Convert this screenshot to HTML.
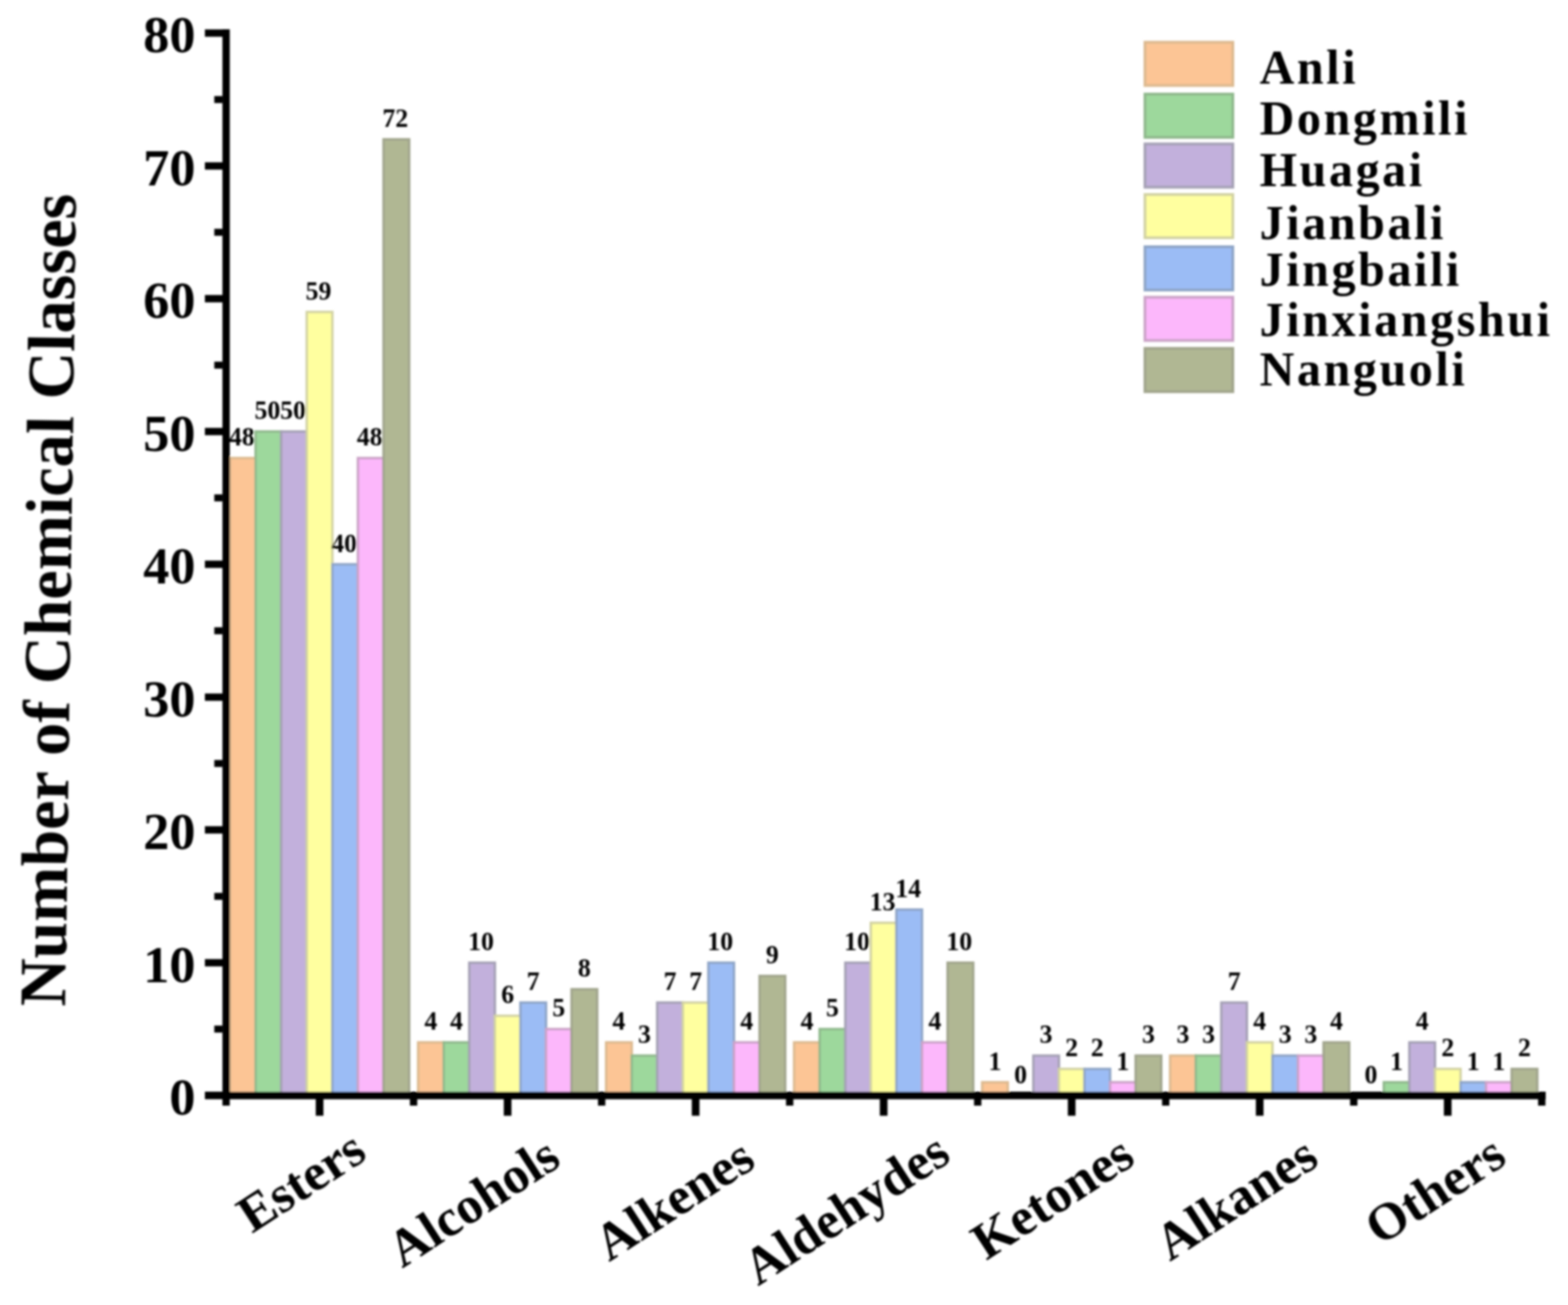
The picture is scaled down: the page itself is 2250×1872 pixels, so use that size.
<!DOCTYPE html>
<html lang="en"><head><meta charset="utf-8"><title>Number of Chemical Classes</title>
<style>html,body{margin:0;padding:0;background:#fff}body{width:2250px;height:1872px;overflow:hidden}svg{display:block}text{font-family:"Liberation Serif","DejaVu Serif",serif;font-weight:700;fill:#000}</style></head><body>
<svg width="2250" height="1872" viewBox="0 0 2250 1872">
<rect width="2250" height="1872" fill="#fff"/>
<defs><filter id="soft" x="0" y="0" width="2250" height="1872" filterUnits="userSpaceOnUse"><feGaussianBlur stdDeviation="1.4"/></filter></defs>
<g filter="url(#soft)">
<g id="bars" stroke-width="3.5">
<rect x="330.1" y="657.1" width="36.7" height="914.4" fill="#fcc595" stroke="#dcb98f"/>
<rect x="366.8" y="619.0" width="36.7" height="952.5" fill="#9dd89c" stroke="#8fb88c"/>
<rect x="403.5" y="619.0" width="36.7" height="952.5" fill="#c2b0dc" stroke="#a4a0b4"/>
<rect x="440.2" y="447.5" width="36.7" height="1124.0" fill="#ffff9f" stroke="#d2d2a2"/>
<rect x="476.9" y="809.5" width="36.7" height="762.0" fill="#9bbcf5" stroke="#8ea4c6"/>
<rect x="513.6" y="657.1" width="36.7" height="914.4" fill="#fcb7fb" stroke="#caa2c6"/>
<rect x="550.4" y="199.9" width="36.7" height="1371.6" fill="#b0b793" stroke="#a0a48c"/>
<rect x="600.0" y="1495.3" width="36.7" height="76.2" fill="#fcc595" stroke="#dcb98f"/>
<rect x="636.7" y="1495.3" width="36.7" height="76.2" fill="#9dd89c" stroke="#8fb88c"/>
<rect x="673.4" y="1381.0" width="36.7" height="190.5" fill="#c2b0dc" stroke="#a4a0b4"/>
<rect x="710.1" y="1457.2" width="36.7" height="114.3" fill="#ffff9f" stroke="#d2d2a2"/>
<rect x="746.8" y="1438.2" width="36.7" height="133.3" fill="#9bbcf5" stroke="#8ea4c6"/>
<rect x="783.5" y="1476.2" width="36.7" height="95.2" fill="#fcb7fb" stroke="#caa2c6"/>
<rect x="820.2" y="1419.1" width="36.7" height="152.4" fill="#b0b793" stroke="#a0a48c"/>
<rect x="869.8" y="1495.3" width="36.7" height="76.2" fill="#fcc595" stroke="#dcb98f"/>
<rect x="906.5" y="1514.3" width="36.7" height="57.2" fill="#9dd89c" stroke="#8fb88c"/>
<rect x="943.1" y="1438.2" width="36.7" height="133.3" fill="#c2b0dc" stroke="#a4a0b4"/>
<rect x="979.9" y="1438.2" width="36.7" height="133.3" fill="#ffff9f" stroke="#d2d2a2"/>
<rect x="1016.5" y="1381.0" width="36.7" height="190.5" fill="#9bbcf5" stroke="#8ea4c6"/>
<rect x="1053.2" y="1495.3" width="36.7" height="76.2" fill="#fcb7fb" stroke="#caa2c6"/>
<rect x="1090.0" y="1400.0" width="36.7" height="171.5" fill="#b0b793" stroke="#a0a48c"/>
<rect x="1139.5" y="1495.3" width="36.7" height="76.2" fill="#fcc595" stroke="#dcb98f"/>
<rect x="1176.2" y="1476.2" width="36.7" height="95.2" fill="#9dd89c" stroke="#8fb88c"/>
<rect x="1213.0" y="1381.0" width="36.7" height="190.5" fill="#c2b0dc" stroke="#a4a0b4"/>
<rect x="1249.6" y="1323.8" width="36.7" height="247.7" fill="#ffff9f" stroke="#d2d2a2"/>
<rect x="1286.3" y="1304.8" width="36.7" height="266.7" fill="#9bbcf5" stroke="#8ea4c6"/>
<rect x="1323.0" y="1495.3" width="36.7" height="76.2" fill="#fcb7fb" stroke="#caa2c6"/>
<rect x="1359.8" y="1381.0" width="36.7" height="190.5" fill="#b0b793" stroke="#a0a48c"/>
<rect x="1409.4" y="1552.5" width="36.7" height="19.0" fill="#fcc595" stroke="#dcb98f"/>
<rect x="1482.8" y="1514.3" width="36.7" height="57.2" fill="#c2b0dc" stroke="#a4a0b4"/>
<rect x="1519.5" y="1533.4" width="36.7" height="38.1" fill="#ffff9f" stroke="#d2d2a2"/>
<rect x="1556.2" y="1533.4" width="36.7" height="38.1" fill="#9bbcf5" stroke="#8ea4c6"/>
<rect x="1592.9" y="1552.5" width="36.7" height="19.0" fill="#fcb7fb" stroke="#caa2c6"/>
<rect x="1629.6" y="1514.3" width="36.7" height="57.2" fill="#b0b793" stroke="#a0a48c"/>
<rect x="1679.1" y="1514.3" width="36.7" height="57.2" fill="#fcc595" stroke="#dcb98f"/>
<rect x="1715.8" y="1514.3" width="36.7" height="57.2" fill="#9dd89c" stroke="#8fb88c"/>
<rect x="1752.5" y="1438.2" width="36.7" height="133.3" fill="#c2b0dc" stroke="#a4a0b4"/>
<rect x="1789.2" y="1495.3" width="36.7" height="76.2" fill="#ffff9f" stroke="#d2d2a2"/>
<rect x="1825.9" y="1514.3" width="36.7" height="57.2" fill="#9bbcf5" stroke="#8ea4c6"/>
<rect x="1862.6" y="1514.3" width="36.7" height="57.2" fill="#fcb7fb" stroke="#caa2c6"/>
<rect x="1899.3" y="1495.3" width="36.7" height="76.2" fill="#b0b793" stroke="#a0a48c"/>
<rect x="1985.7" y="1552.5" width="36.7" height="19.0" fill="#9dd89c" stroke="#8fb88c"/>
<rect x="2022.4" y="1495.3" width="36.7" height="76.2" fill="#c2b0dc" stroke="#a4a0b4"/>
<rect x="2059.1" y="1533.4" width="36.7" height="38.1" fill="#ffff9f" stroke="#d2d2a2"/>
<rect x="2095.8" y="1552.5" width="36.7" height="19.0" fill="#9bbcf5" stroke="#8ea4c6"/>
<rect x="2132.4" y="1552.5" width="36.7" height="19.0" fill="#fcb7fb" stroke="#caa2c6"/>
<rect x="2169.2" y="1533.4" width="36.7" height="38.1" fill="#b0b793" stroke="#a0a48c"/>
</g>
<g id="labels" font-size="37" text-anchor="middle">
<text x="347.0" y="639.1">48</text>
<text x="383.7" y="601.0">50</text>
<text x="420.4" y="601.0">50</text>
<text x="457.1" y="429.5">59</text>
<text x="493.8" y="791.5">40</text>
<text x="530.5" y="639.1">48</text>
<text x="567.2" y="181.9">72</text>
<text x="618.3" y="1477.3">4</text>
<text x="655.0" y="1477.3">4</text>
<text x="690.2" y="1363.0">10</text>
<text x="728.4" y="1439.2">6</text>
<text x="765.1" y="1420.2">7</text>
<text x="801.8" y="1458.2">5</text>
<text x="838.5" y="1401.1">8</text>
<text x="888.1" y="1477.3">4</text>
<text x="924.8" y="1496.3">3</text>
<text x="961.5" y="1420.2">7</text>
<text x="998.2" y="1420.2">7</text>
<text x="1033.4" y="1363.0">10</text>
<text x="1071.6" y="1477.3">4</text>
<text x="1108.3" y="1382.0">9</text>
<text x="1157.9" y="1477.3">4</text>
<text x="1194.6" y="1458.2">5</text>
<text x="1229.8" y="1363.0">10</text>
<text x="1266.5" y="1305.8">13</text>
<text x="1303.2" y="1286.8">14</text>
<text x="1341.4" y="1477.3">4</text>
<text x="1376.6" y="1363.0">10</text>
<text x="1427.7" y="1534.5">1</text>
<text x="1464.4" y="1553.5">0</text>
<text x="1501.1" y="1496.3">3</text>
<text x="1537.8" y="1515.4">2</text>
<text x="1574.5" y="1515.4">2</text>
<text x="1611.2" y="1534.5">1</text>
<text x="1647.9" y="1496.3">3</text>
<text x="1697.5" y="1496.3">3</text>
<text x="1734.2" y="1496.3">3</text>
<text x="1770.9" y="1420.2">7</text>
<text x="1807.6" y="1477.3">4</text>
<text x="1844.3" y="1496.3">3</text>
<text x="1881.0" y="1496.3">3</text>
<text x="1917.7" y="1477.3">4</text>
<text x="1967.3" y="1553.5">0</text>
<text x="2004.0" y="1534.5">1</text>
<text x="2040.7" y="1477.3">4</text>
<text x="2077.4" y="1515.4">2</text>
<text x="2114.1" y="1534.5">1</text>
<text x="2150.8" y="1534.5">1</text>
<text x="2187.5" y="1515.4">2</text>
</g>
<g id="axes" fill="#000">
<rect x="319.2" y="42" width="10.5" height="1544"/>
<rect x="294" y="1566" width="1924" height="10.8"/>
<rect x="307.5" y="1471.2" width="12" height="10"/>
<rect x="294" y="1375.8" width="26" height="10.5"/>
<rect x="307.5" y="1280.8" width="12" height="10"/>
<rect x="294" y="1185.2" width="26" height="10.5"/>
<rect x="307.5" y="1090.2" width="12" height="10"/>
<rect x="294" y="994.8" width="26" height="10.5"/>
<rect x="307.5" y="899.8" width="12" height="10"/>
<rect x="294" y="804.2" width="26" height="10.5"/>
<rect x="307.5" y="709.2" width="12" height="10"/>
<rect x="294" y="613.8" width="26" height="10.5"/>
<rect x="307.5" y="518.8" width="12" height="10"/>
<rect x="294" y="423.2" width="26" height="10.5"/>
<rect x="307.5" y="328.2" width="12" height="10"/>
<rect x="294" y="232.8" width="26" height="10.5"/>
<rect x="307.5" y="137.8" width="12" height="10"/>
<rect x="294" y="42.2" width="26" height="10.5"/>
<rect x="453.1" y="1570" width="11" height="30.5"/>
<rect x="722.9" y="1570" width="11" height="30.5"/>
<rect x="992.7" y="1570" width="11" height="30.5"/>
<rect x="1262.5" y="1570" width="11" height="30.5"/>
<rect x="1532.3" y="1570" width="11" height="30.5"/>
<rect x="1802.1" y="1570" width="11" height="30.5"/>
<rect x="2071.9" y="1570" width="11" height="30.5"/>
<rect x="588.2" y="1570" width="10.5" height="16"/>
<rect x="858.1" y="1570" width="10.5" height="16"/>
<rect x="1127.9" y="1570" width="10.5" height="16"/>
<rect x="1397.7" y="1570" width="10.5" height="16"/>
<rect x="1667.5" y="1570" width="10.5" height="16"/>
<rect x="1937.3" y="1570" width="10.5" height="16"/>
<rect x="2207.1" y="1570" width="10.5" height="16"/>
</g>
<g id="yticks" font-size="75" text-anchor="end">
<text x="280.5" y="1599.0">0</text>
<text x="280.5" y="1408.5">10</text>
<text x="280.5" y="1218.0">20</text>
<text x="280.5" y="1027.5">30</text>
<text x="280.5" y="837.0">40</text>
<text x="280.5" y="646.5">50</text>
<text x="280.5" y="456.0">60</text>
<text x="280.5" y="265.5">70</text>
<text x="280.5" y="75.0">80</text>
</g>
<text id="ytitle" font-size="95" transform="translate(93.8 1444) rotate(-89.27)" textLength="1166" lengthAdjust="spacing">Number of Chemical Classes</text>
<g id="xlabels" font-size="75" text-anchor="end">
<text transform="translate(529.4 1661.0) rotate(-33)">Esters</text>
<text transform="translate(807.8 1670.2) rotate(-33)">Alcohols</text>
<text transform="translate(1087.2 1672.3) rotate(-33)">Alkenes</text>
<text transform="translate(1367.3 1664.0) rotate(-33)">Aldehydes</text>
<text transform="translate(1631.8 1668.0) rotate(-33)">Ketones</text>
<text transform="translate(1895.4 1669.6) rotate(-33)">Alkanes</text>
<text transform="translate(2165.1 1667.6) rotate(-33)">Others</text>
</g>
<g id="legend" font-size="69" letter-spacing="3.7" stroke-width="4">
<rect x="1643" y="60.6" width="126" height="62" fill="#fcc595" stroke="#dcb98f"/>
<text x="1807.5" y="119.6" stroke="none">Anli</text>
<rect x="1643" y="135.0" width="126" height="62" fill="#9dd89c" stroke="#8fb88c"/>
<text x="1807.5" y="193.0" stroke="none">Dongmili</text>
<rect x="1643" y="206.5" width="126" height="62" fill="#c2b0dc" stroke="#a4a0b4"/>
<text x="1807.5" y="267.4" stroke="none">Huagai</text>
<rect x="1643" y="279.0" width="126" height="62" fill="#ffff9f" stroke="#d2d2a2"/>
<text x="1807.5" y="343.2" stroke="none">Jianbali</text>
<rect x="1643" y="354.0" width="126" height="62" fill="#9bbcf5" stroke="#8ea4c6"/>
<text x="1807.5" y="409.5" stroke="none">Jingbaili</text>
<rect x="1643" y="426.4" width="126" height="62" fill="#fcb7fb" stroke="#caa2c6"/>
<text x="1807.5" y="481.7" stroke="none">Jinxiangshui</text>
<rect x="1643" y="499.8" width="126" height="62" fill="#b0b793" stroke="#a0a48c"/>
<text x="1807.5" y="553.0" stroke="none">Nanguoli</text>
</g>
</g>
</svg></body></html>
